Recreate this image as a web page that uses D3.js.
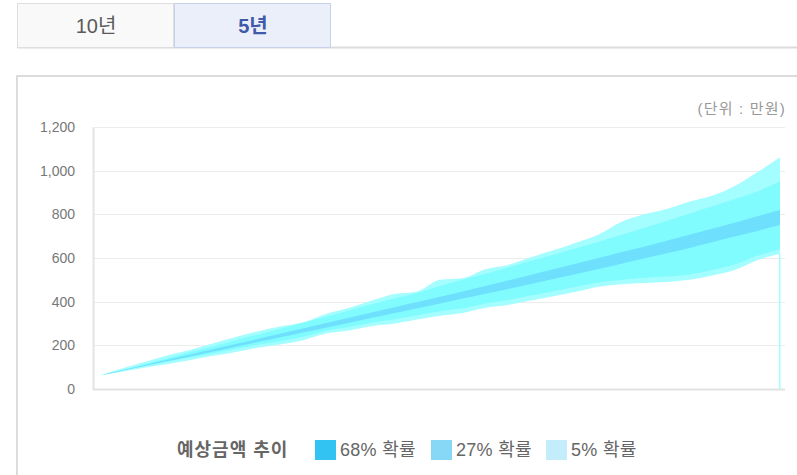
<!DOCTYPE html>
<html>
<head>
<meta charset="utf-8">
<script src="https://cdn.jsdelivr.net/npm/d3@7"></script>
<style>
  body { margin: 0; background: #fff; }
  svg { display: block; font-family: 'Liberation Sans', 'Noto Sans CJK KR', sans-serif; }
</style>
</head>
<body>
<svg id="chart" width="797" height="475"></svg>
<script>
// months since start, one sample every 2 months
const months = [0, 2, 4, 6, 8, 10, 12, 14, 16, 18, 20, 22, 24, 26, 28, 30,
    32, 34, 36, 38, 40, 42, 44, 46, 48, 50, 52, 54, 56, 58, 60];

// 5% band (outer, wavy)
const p5Upper = [62, 95, 125, 155, 180, 210, 238, 265, 287, 307, 345, 372, 405, 435, 447, 500,
    507, 548, 568, 603, 635, 670, 708, 765, 800, 825, 858, 885, 930, 993, 1062];
const p5Lower = [62, 80, 98, 115, 133, 152, 170, 190, 205, 225, 255, 268, 288, 300, 318, 335,
    348, 372, 385, 405, 425, 445, 468, 480, 486, 490, 500, 520, 545, 590, 620];

// 27% band
const p27Upper = [62, 88, 115, 142, 169, 196, 223, 250, 277, 304, 332, 360, 388, 416, 440, 472,
    500, 528, 557, 586, 615, 645, 675, 705, 737, 770, 803, 836, 870, 905, 950];
const p27Lower = [62, 85, 107, 126, 145, 164, 184, 204, 220, 240, 268, 284, 305, 320, 338, 356,
    370, 392, 408, 428, 448, 468, 488, 500, 510, 515, 525, 545, 570, 610, 640];

// 68% band
const p68Upper = [62, 86, 110, 134, 158, 182, 206, 230, 254, 278, 302, 326, 350, 374, 398, 422,
    447, 472, 497, 522, 548, 574, 600, 626, 652, 679, 706, 734, 762, 791, 820];
const p68Lower = [62, 84, 106, 128, 150, 172, 194, 216, 238, 260, 282, 304, 326, 348, 370, 392,
    414, 436, 458, 481, 504, 527, 550, 574, 598, 622, 646, 672, 698, 724, 751];

const yTicks = [0, 200, 400, 600, 800, 1000, 1200];
const tabLabels = ['10년', '5년'];
const legendItems = ['68% 확률', '27% 확률', '5% 확률'];
const legendTitle = '예상금액 추이';
const unitLabel = '(단위 : 만원)';

const bandColors = ['#a4fdfe', '#80fbfe', '#6fdffe'];
const legendColors = ['#33c3f3', '#87d8f6', '#c3edfb'];

const svg = d3.select('#chart');

// tabs
const tabs = svg.append('g');
tabs.append('line')
    .attr('x1', 17).attr('x2', 797).attr('y1', 47.5).attr('y2', 47.5)
    .attr('stroke', '#dcdcdc').attr('stroke-width', 2);
tabLabels.forEach((label, i) => {
    const active = i === 1;
    tabs.append('rect')
        .attr('x', 17.5 + i * 157).attr('y', 3.5)
        .attr('width', 156).attr('height', 44)
        .attr('fill', active ? '#ebeff9' : '#f9f9f9')
        .attr('stroke', active ? '#c8d0ea' : '#dedede');
    tabs.append('text')
        .attr('x', 96 + i * 157).attr('y', 33)
        .attr('text-anchor', 'middle')
        .attr('font-size', 20)
        .attr('font-weight', active ? 'bold' : 'normal')
        .attr('fill', active ? '#3f5aa8' : '#5a5a5a')
        .text(label);
});

// chart box
svg.append('path')
    .attr('d', 'M17,475 V76 H797')
    .attr('fill', 'none')
    .attr('stroke', '#dcdcdc')
    .attr('stroke-width', 2);

svg.append('text')
    .attr('x', 786).attr('y', 114)
    .attr('text-anchor', 'end')
    .attr('font-size', 15)
    .attr('letter-spacing', 1.2)
    .attr('fill', '#999')
    .text(unitLabel);

const plot = { left: 93, right: 785, top: 127, bottom: 389 };

const x = d3.scaleLinear().domain([0, 60]).range([100, 780]);
const y = d3.scaleLinear().domain([0, 1200]).range([plot.bottom, plot.top]);

// grid
svg.append('g')
    .selectAll('line')
    .data(yTicks.slice(1))
    .join('line')
    .attr('x1', plot.left).attr('x2', plot.right)
    .attr('y1', d => Math.round(y(d)) + 0.5).attr('y2', d => Math.round(y(d)) + 0.5)
    .attr('stroke', '#ececec');

const yAxis = svg.append('g')
    .attr('transform', `translate(${plot.left},0)`)
    .call(d3.axisLeft(y).tickValues(yTicks).tickSize(0).tickPadding(18)
        .tickFormat(d3.format(',')));
yAxis.select('.domain').attr('stroke', '#e4e4e4').attr('stroke-width', 2);
yAxis.selectAll('text')
    .attr('font-size', 14)
    .attr('fill', '#777')
    .attr('font-family', "'Liberation Sans', sans-serif");

svg.append('line')
    .attr('x1', plot.left).attr('x2', plot.right)
    .attr('y1', plot.bottom + 0.5).attr('y2', plot.bottom + 0.5)
    .attr('stroke', '#e2e2e2').attr('stroke-width', 2);

// bands
const bands = [
    [p5Upper, p5Lower],
    [p27Upper, p27Lower],
    [p68Upper, p68Lower]
];
const area = d3.area()
    .x(d => x(d.m))
    .y0(d => y(d.lo))
    .y1(d => y(d.hi))
    .curve(d3.curveMonotoneX);

bands.forEach(([hi, lo], i) => {
    const data = months.map((m, j) => ({ m: m, hi: hi[j], lo: lo[j] }));
    svg.append('path')
        .datum(data)
        .attr('d', area)
        .attr('fill', bandColors[i]);
});

// thin drop at the last point down to zero
const last = months.length - 1;
svg.append('rect')
    .attr('x', x(months[last]) - 1)
    .attr('y', y(p5Lower[last]))
    .attr('width', 1.5)
    .attr('height', y(0) - y(p5Lower[last]))
    .attr('fill', bandColors[0]);

// legend
const legend = svg.append('g').attr('font-size', 18).attr('fill', '#666');
legend.append('text')
    .attr('x', 177).attr('y', 456)
    .attr('font-weight', 'bold')
    .attr('letter-spacing', 1)
    .text(legendTitle);
const legendX = [315, 431, 546];
legendItems.forEach((label, i) => {
    legend.append('rect')
        .attr('x', legendX[i]).attr('y', 440)
        .attr('width', 21).attr('height', 20)
        .attr('fill', legendColors[i]);
    legend.append('text')
        .attr('x', legendX[i] + 25).attr('y', 456)
        .attr('letter-spacing', 0.3)
        .text(label);
});
</script>
</body>
</html>
